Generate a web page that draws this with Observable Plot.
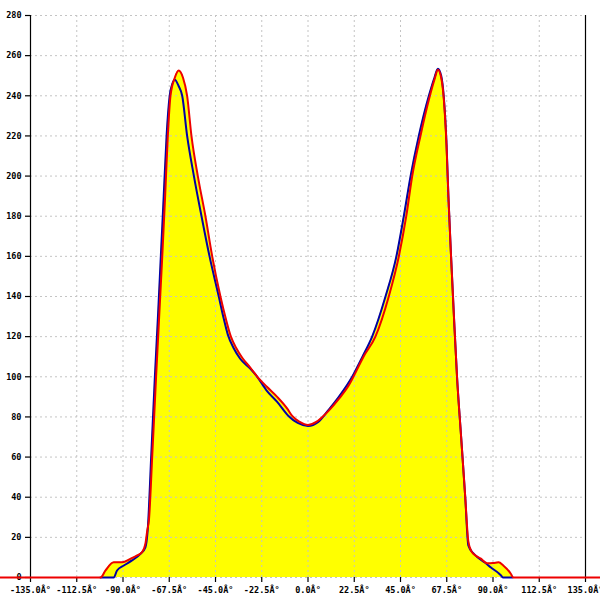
<!DOCTYPE html>
<html><head><meta charset="utf-8">
<script src="https://cdn.jsdelivr.net/npm/d3@7"></script>
<script src="https://cdn.jsdelivr.net/npm/@observablehq/plot@0.6"></script>
<style>body{margin:0;background:#fff;} #chart svg{display:block;}</style>
</head><body><div id="chart"></div>
<script>
const xTicks = [-135, -112.5, -90, -67.5, -45, -22.5, 0, 22.5, 45, 67.5, 90, 112.5, 135];
const xTickLabels = ["-135.0Â°", "-112.5Â°", "-90.0Â°", "-67.5Â°", "-45.0Â°", "-22.5Â°", "0.0Â°", "22.5Â°", "45.0Â°", "67.5Â°", "90.0Â°", "112.5Â°", "135.0Â°"];
const yTicks = [0, 20, 40, 60, 80, 100, 120, 140, 160, 180, 200, 220, 240, 260, 280];

const redAngles = [-150, -100.9, -98.5, -94.5, -90.4, -86.4, -83.1, -80.7, -79.1, -78.2, -77.4, -75.8, -73.9, -72.4, -70.9, -69.5, -68.2, -66.9, -64.8, -62.9, -60.8, -58.8, -56.7, -53.6, -49.9, -46.6, -42.6, -40, -37.5, -35, -32, -28, -25, -20, -15, -10, -7.7, -4, 0, 4, 7, 10, 15, 20, 22.1, 27, 32.8, 39.3, 44.2, 47.8, 50.7, 54.7, 59.3, 61.5, 63.2, 64.8, 66.1, 67.4, 68.3, 69.6, 71, 72.5, 74.5, 76.5, 78, 79.5, 81.5, 83.9, 87.2, 90, 92.7, 95, 98.6, 99.9, 150];
const redValues = [0, 0, 3.5, 7.6, 7.6, 9.3, 11, 12.6, 16.8, 23.4, 28.4, 60, 100, 130, 160, 190, 220, 240, 249, 252.6, 249, 240, 220, 200, 180, 160, 140, 129, 120, 114.5, 109.5, 104.5, 100.5, 95, 90, 84, 80.5, 77.5, 76, 77.5, 80, 83, 89, 96, 100, 110, 120, 140, 160, 180, 200, 220, 240, 248, 253, 249, 238, 215, 190, 160, 130, 100, 70, 40, 18, 13, 11, 9.5, 7.1, 7.2, 7.6, 6, 2, 0, 0];

const blueAngles = [-101, -94.5, -92.9, -89.6, -85.6, -81.5, -79.1, -78, -76.3, -74.5, -73, -71.6, -70.2, -68.8, -67.3, -66, -64.8, -63, -61.2, -58.8, -55.5, -51.8, -47.9, -43.4, -41, -39, -36, -33, -28, -24.7, -20, -15, -9.5, -5, 0, 5, 10, 15, 21.5, 26.5, 31.2, 37.7, 43, 46.6, 49.9, 53.9, 58.8, 61.5, 63.2, 64.8, 66.1, 67.4, 68.3, 69.6, 71, 72.5, 74.5, 76.5, 78, 80.5, 82.6, 86, 89, 92.9, 93.9, 95, 99.5];
const blueValues = [0, 0, 3.5, 6, 8.5, 11.8, 15, 23.4, 60, 100, 130, 160, 190, 220, 240, 246, 248, 245, 240, 220, 200, 180, 160, 140, 129, 121, 114, 109, 104, 100, 93, 87.5, 80.5, 77, 75.5, 77.5, 83.5, 90, 100, 110, 120, 140, 160, 180, 200, 220, 240, 249, 253.5, 250, 239, 216, 190, 160, 130, 100, 70, 40, 16, 12, 10, 7.5, 5, 2, 1, 0, 0];

const red = redAngles.map((a, i) => ({angle: a, value: redValues[i]}));
const blue = blueAngles.map((a, i) => ({angle: a, value: blueValues[i]}));

const fmt = d => xTickLabels[xTicks.indexOf(d)];

const chart = Plot.plot({
  width: 600,
  height: 600,
  marginLeft: 30,
  marginRight: 15,
  marginTop: 15,
  marginBottom: 23,
  style: {fontFamily: "'DejaVu Sans Mono', monospace", fontSize: "8.5px", fontWeight: "bold", color: "#000", background: "#fff"},
  x: {domain: [-135, 135], axis: null},
  y: {domain: [0, 280], axis: null},
  marks: [
    Plot.areaY(blue, {x: "angle", y: "value", fill: "#ffff00", curve: "monotone-x"}),
    Plot.areaY(red, {x: "angle", y: "value", fill: "#ffff00", curve: "monotone-x"}),
    Plot.gridX(xTicks, {stroke: "#c4c4c4", strokeOpacity: 1, strokeDasharray: "2,3"}),
    Plot.gridY(yTicks, {stroke: "#c4c4c4", strokeOpacity: 1, strokeDasharray: "2,3"}),
    Plot.ruleX([-135, 135], {stroke: "#000", strokeWidth: 1.2}),
    Plot.axisX(xTicks, {anchor: "bottom", tickSize: 5, tickPadding: 4, tickFormat: fmt, label: null, stroke: "#000", strokeWidth: 1.2}),
    Plot.axisY(yTicks, {anchor: "left", tickSize: 5, tickPadding: 4, tickFormat: d => String(d), label: null, stroke: "#000", strokeWidth: 1.2}),
    Plot.line(blue, {x: "angle", y: "value", stroke: "#0000a8", strokeWidth: 2, curve: "monotone-x"}),
    Plot.line(red, {x: "angle", y: "value", stroke: "#ee0000", strokeWidth: 2, curve: "monotone-x"})
  ]
});
document.getElementById("chart").appendChild(chart);
</script>
</body></html>
